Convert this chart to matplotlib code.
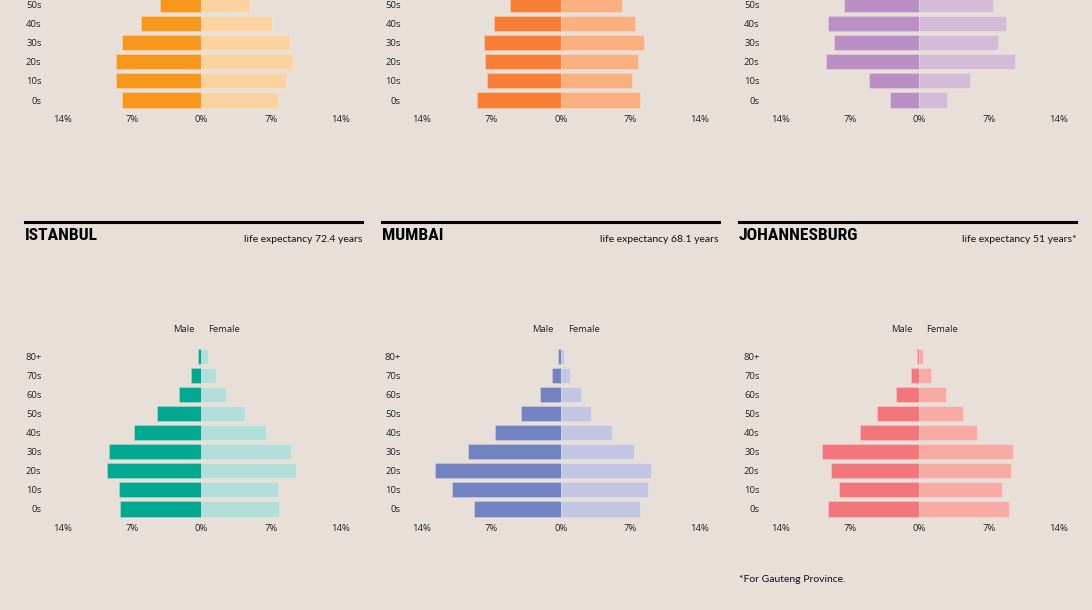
import matplotlib
matplotlib.use("Agg")
import matplotlib.pyplot as plt
from matplotlib import font_manager
import numpy as np

# age groups
ages_full = ['0s', '10s', '20s', '30s', '40s', '50s', '60s', '70s', '80+']
ages_top = ['0s', '10s', '20s', '30s', '40s', '50s']  # top row is cut off above 50s

# top row (only lower part visible)
top1_male = [8.0, 8.6, 8.6, 8.0, 6.1, 4.2]
top1_female = [7.7, 8.5, 9.2, 8.9, 7.1, 4.9]
top2_male = [8.4, 7.4, 7.6, 7.7, 6.7, 5.1]
top2_female = [8.0, 7.2, 7.8, 8.4, 7.5, 6.2]
top3_male = [3.0, 5.1, 9.4, 8.6, 9.2, 7.6]
top3_female = [2.8, 5.1, 9.6, 7.9, 8.7, 7.4]

# bottom row
cities = ['ISTANBUL', 'MUMBAI', 'JOHANNESBURG']
life_exp = ['life expectancy 72.4 years', 'life expectancy 68.1 years',
            'life expectancy 51 years*']
istanbul_male = [8.2, 8.3, 9.5, 9.3, 6.8, 4.5, 2.25, 1.05, 0.3]
istanbul_female = [7.8, 7.7, 9.5, 9.0, 6.5, 4.45, 2.5, 1.45, 0.65]
mumbai_male = [8.7, 10.9, 12.7, 9.3, 6.6, 3.95, 2.1, 0.87, 0.27]
mumbai_female = [8.0, 8.8, 9.1, 7.4, 5.15, 3.1, 2.05, 0.9, 0.3]
joburg_male = [9.2, 8.1, 8.9, 9.8, 6.0, 4.25, 2.3, 0.85, 0.2]
joburg_female = [9.0, 8.3, 9.2, 9.4, 5.85, 4.45, 2.65, 1.2, 0.4]

xticks = [-14, -7, 0, 7, 14]
xtick_labels = ['14%', '7%', '0%', '7%', '14%']

BG = '#e7dfd8'
W, H = 1092, 610

# pick a condensed bold face for the city names
installed = set(f.name for f in font_manager.fontManager.ttflist)
title_font, title_size = 'DejaVu Sans', 12
for cand, size in [('Roboto Condensed', 12.6), ('Barlow Condensed', 13.5),
                   ('Liberation Sans Narrow', 13.0)]:
    if cand in installed:
        title_font, title_size = cand, size
        break

fig = plt.figure(figsize=(W / 100, H / 100), dpi=100, facecolor=BG)

zero_px = [201.3, 560.7, 919.3]
head_left = [25, 382, 739]
head_right = [362, 719, 1076]
px_per_pct = 9.93
row_px = 19.04


def make_axes(zero, y0_px):
    # y0_px = pixel row of the '0s' bar
    left = zero - 14 * px_per_pct
    width = 28 * px_per_pct
    bottom_px = y0_px + 0.5 * row_px
    height = 9 * row_px
    ax = fig.add_axes([left / W, 1 - bottom_px / H, width / W, height / H])
    ax.set_facecolor('none')
    return ax


def draw_pyramid(ax, labels, male, female, c_male, c_female, show_sex=False):
    y = np.arange(len(labels))
    ax.barh(y, -np.array(male), height=0.79, color=c_male,
            edgecolor=(1, 1, 1, 0.25), linewidth=0.6)
    ax.barh(y, female, height=0.79, color=c_female,
            edgecolor=(1, 1, 1, 0.25), linewidth=0.6)
    ax.set_xlim(-14, 14)
    ax.set_ylim(-0.5, 8.5)
    ax.set_yticks(y)
    ax.set_yticklabels(labels, fontsize=6.8, family='Open Sans', color='#222222')
    ax.set_xticks(xticks)
    ax.set_xticklabels(xtick_labels, fontsize=6.8, family='Open Sans', color='#222222')
    ax.tick_params(axis='y', length=0, pad=15)
    ax.tick_params(axis='x', length=0, pad=4)
    for s in ax.spines.values():
        s.set_visible(False)
    if show_sex:
        ax.text(-0.7, 9.45, 'Male', ha='right', va='center', fontsize=6.8,
                family='Open Sans', color='#222222')
        ax.text(0.7, 9.45, 'Female', ha='left', va='center', fontsize=6.8,
                family='Open Sans', color='#222222')


# top row
top_data = [(top1_male, top1_female, '#f7981d', '#fcd39f'),
            (top2_male, top2_female, '#f67f35', '#f9af7e'),
            (top3_male, top3_female, '#b98fc4', '#d4bbd8')]
for k, (m, f, cm, cf) in enumerate(top_data):
    ax = make_axes(zero_px[k], 100)
    draw_pyramid(ax, ages_top, m, f, cm, cf)

# bottom row
bottom_data = [(istanbul_male, istanbul_female, '#00a88f', '#b2dfd9'),
               (mumbai_male, mumbai_female, '#7382c0', '#c2c6e3'),
               (joburg_male, joburg_female, '#f3767a', '#f8aaa5')]
for k, (m, f, cm, cf) in enumerate(bottom_data):
    ax = make_axes(zero_px[k], 509)
    draw_pyramid(ax, ages_full, m, f, cm, cf, show_sex=True)

    # header: rule, city name, life expectancy
    fig.add_artist(plt.Line2D([head_left[k] / W, head_right[k] / W],
                              [1 - 222 / H, 1 - 222 / H],
                              color='black', linewidth=2.2))
    fig.text(head_left[k] / W, 1 - 235 / H, cities[k], ha='left', va='center',
             fontsize=title_size, fontweight='black', family=title_font,
             color='black')
    fig.text(head_right[k] / W, 1 - 239 / H, life_exp[k], ha='right', va='center',
             fontsize=7.5, family='Lato', color='#111111')

fig.text(739 / W, 1 - 580 / H, '*For Gauteng Province.', ha='left', va='center',
         fontsize=7.5, family='Lato', color='#111111')

fig.savefig('out.png', dpi=100, facecolor=BG)
